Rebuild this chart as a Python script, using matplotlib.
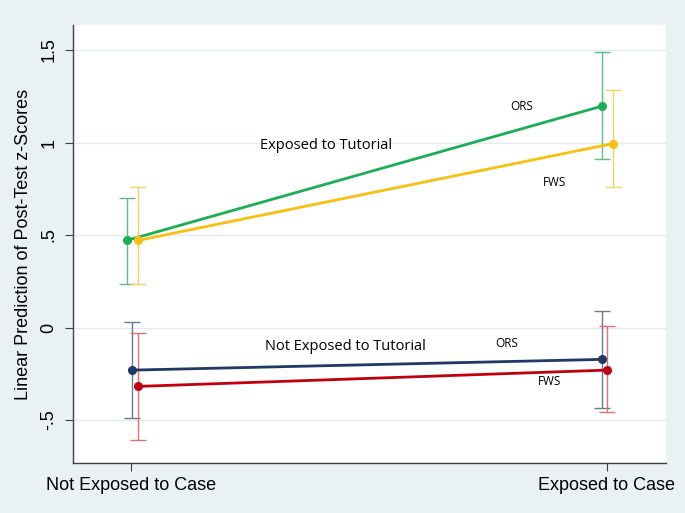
import numpy as np
import matplotlib.pyplot as plt

plt.rcParams['font.family'] = ['Liberation Sans', 'DejaVu Sans']

case_labels = ["Not Exposed to Case", "Exposed to Case"]
case_x = [0, 1]

# predicted z-scores and 95% CI (lower, upper)
tut_ors = [0.471, 1.197]
tut_ors_lo = [0.237, 0.909]
tut_ors_hi = [0.700, 1.488]

tut_fws = [0.471, 0.994]
tut_fws_lo = [0.237, 0.761]
tut_fws_hi = [0.761, 1.282]

notut_ors = [-0.230, -0.172]
notut_ors_lo = [-0.491, -0.434]
notut_ors_hi = [0.031, 0.089]

notut_fws = [-0.318, -0.230]
notut_fws_lo = [-0.606, -0.458]
notut_fws_hi = [-0.028, 0.006]

bg = "#e9f1f3"
series = [
    (tut_ors, tut_ors_lo, tut_ors_hi, "#1aaf54", "#5cbf86", [-0.009, -0.010]),
    (tut_fws, tut_fws_lo, tut_fws_hi, "#f9c010", "#f7d060", [0.015, 0.012]),
    (notut_ors, notut_ors_lo, notut_ors_hi, "#1f3864", "#6a7890", [0.003, -0.010]),
    (notut_fws, notut_fws_lo, notut_fws_hi, "#c00010", "#e27070", [0.015, 0.000]),
]

fig = plt.figure(figsize=(6.85, 5.13), dpi=100, facecolor=bg)
ax = fig.add_axes([73 / 685, 1 - 463 / 513, (666 - 73) / 685, (463 - 25) / 513])
ax.set_facecolor("white")

for y, lo, hi, col, ecol, off in series:
    xs = np.array(case_x) + np.array(off)
    y = np.array(y)
    err = [y - np.array(lo), np.array(hi) - y]
    ax.errorbar(xs, y, yerr=err, fmt="none", ecolor=ecol, elinewidth=1.0,
                capsize=6, capthick=1.0, zorder=2)
    ax.plot(xs, y, color=col, lw=2.0, marker="o", markersize=5.5, zorder=3)

ax.set_xlim(-0.122, 1.124)
ax.set_ylim(-0.732, 1.635)
ax.set_xticks(case_x)
ax.set_xticklabels(case_labels, fontsize=13)
ax.set_yticks([-0.5, 0, 0.5, 1, 1.5])
ax.set_yticklabels(["-.5", "0", ".5", "1", "1.5"], fontsize=13, rotation=90, va="center")
ax.set_ylabel("Linear Prediction of Post-Test z-Scores", fontsize=13, labelpad=6)
ax.grid(axis="y", color="#e4ebee", lw=1.0)
ax.set_axisbelow(True)
for s in ["top", "right"]:
    ax.spines[s].set_visible(False)
for s in ["left", "bottom"]:
    ax.spines[s].set_color("#404040")
    ax.spines[s].set_linewidth(1.0)
ax.tick_params(axis="both", colors="#404040", labelcolor="black", length=6, width=0.8, pad=5)
ax.tick_params(axis="x", pad=4)

afont = ['Open Sans', 'DejaVu Sans']
ax.text(0.41, 0.985, "Exposed to Tutorial", fontsize=10.5, family=afont, ha="center", va="center")
ax.text(0.45, -0.10, "Not Exposed to Tutorial", fontsize=10.5, family=afont, ha="center", va="center")
ax.text(0.82, 1.195, "ORS", fontsize=8.5, family=afont, ha="center", va="center")
ax.text(0.89, 0.785, "FWS", fontsize=8.5, family=afont, ha="center", va="center")
ax.text(0.79, -0.085, "ORS", fontsize=8.5, family=afont, ha="center", va="center")
ax.text(0.88, -0.29, "FWS", fontsize=8.5, family=afont, ha="center", va="center")

fig.savefig("out.png", dpi=100, facecolor=bg)
